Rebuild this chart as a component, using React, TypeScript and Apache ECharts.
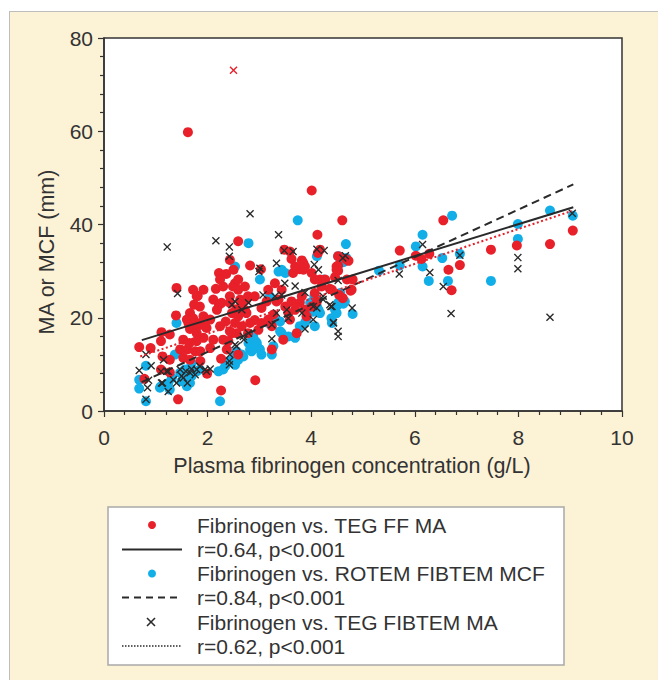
import React, { useEffect, useRef } from "react";
import * as echarts from "echarts";

const xTicks = [0, 2, 4, 6, 8, 10];
const yTicks = [0, 20, 40, 60, 80];

const tegFF: number[][] = [
  [4.60,40.9],[6.55,40.9],[5.71,34.4],[7.47,34.6],[7.97,35.5],[8.61,35.8],[9.05,38.7],[6.65,30.3],[6.87,31.3],[6.71,25.9],
  [6.02,33.3],[6.13,32.6],[6.28,33.7],[4.52,31.2],[4.52,30.1],[4.46,28.7],[4.69,28.2],[4.80,28.2],[4.76,25.8],[4.54,24.9],
  [4.61,24.2],[4.36,26.2],[4.67,32.6],[1.62,59.8],
  [1.40,26.4],[1.39,20.5],[0.68,13.7],[0.90,13.5],[1.10,15.0],[1.11,16.9],[1.27,16.4],[0.78,6.9],[1.10,8.9],[1.27,8.3],
  [1.43,2.5],[2.26,4.4],[2.26,11.2],[1.99,8.0],[2.59,36.4],[2.22,29.6],[2.36,29.4],[2.43,32.4],[2.50,30.3],[2.16,26.2],
  [1.92,26.0],[1.81,24.7],[2.11,23.9],[2.22,22.8],[1.74,22.8],[1.66,21.0],[1.92,20.3],[2.05,19.6],[1.63,18.9],[1.80,18.2],
  [1.98,17.8],[2.24,18.2],[2.35,19.2],[2.47,21.0],[1.53,15.3],[1.65,14.6],[1.79,15.0],[1.92,15.7],[2.11,15.3],[1.47,13.2],
  [1.61,13.2],[1.76,12.8],[1.86,12.8],[2.05,13.5],[1.53,11.4],[1.66,11.0],[1.86,10.7],[2.37,13.2],[2.40,15.0],[2.47,16.7],
  [2.53,18.9],[2.43,23.2],[2.49,26.7],[2.59,12.1],
  [4.01,47.3],[4.12,37.8],[3.48,34.6],[3.82,32.3],[3.78,30.4],[3.65,29.6],[2.82,31.2],[3.03,30.4],[3.62,32.6],[3.69,31.0],
  [4.72,32.2],[4.49,30.3],[4.78,26.0],
  [2.53,27.4],[2.59,26.0],[2.72,26.7],[2.78,24.6],[2.66,23.2],[2.56,21.8],[2.59,20.3],[2.75,21.0],[2.66,18.2],[2.82,18.9],
  [2.78,16.7],[2.91,19.5],[2.98,17.4],[3.04,22.1],[2.91,24.6],
  [3.14,23.5],[3.17,26.0],[3.30,27.4],[3.43,26.0],[3.37,23.9],[3.50,22.4],[3.62,23.5],[3.56,21.0],[3.69,21.7],[3.78,23.2],
  [3.82,24.6],[3.88,21.7],[3.91,20.3],[4.01,22.4],[4.11,23.5],[4.07,25.3],[4.20,26.7],[4.17,28.2],[4.40,26.0],[4.27,28.2],
  [3.27,20.7],[3.04,18.9],[3.24,18.2],[3.17,19.6],[3.85,30.3],[4.01,29.6],[4.07,28.2],[3.88,31.0],[3.24,13.2],[2.92,6.6],
  [3.59,34.2],[3.85,31.7],[4.13,33.9],[4.17,34.6],[4.49,31.0],[4.52,33.2],
  [1.60,19.6],[1.72,19.9],[1.85,18.9],[1.95,18.2],[1.66,17.6],[1.79,16.7],[1.79,24.6],[1.72,26.0],[1.85,22.4],
  [2.18,21.7],[2.27,23.2],[2.43,24.6],[2.30,26.7],[2.24,28.2],[2.59,28.2],[2.63,23.9],[2.75,23.9],[2.72,21.7],[2.56,16.7],
  [2.43,17.1],[2.30,15.3],[1.13,11.7],[1.27,11.0],[3.33,23.5],[3.59,19.6],[3.46,15.3],[3.72,16.7],
];

const rotemFibtem: number[][] = [
  [6.72,41.9],[8.61,43.0],[9.05,41.9],[7.99,40.1],[7.99,36.9],[6.15,37.8],[6.02,35.3],[6.15,31.0],[6.27,27.9],[6.53,32.8],
  [6.64,27.9],[5.71,31.2],[5.31,30.1],[7.47,27.9],[6.87,33.7],[4.67,35.8],[4.54,33.1],[4.62,31.9],[4.62,23.0],[4.50,22.6],
  [4.48,21.0],[4.39,19.9],[4.80,20.8],
  [1.40,18.9],[1.37,12.1],[0.81,9.7],[0.68,6.7],[0.81,2.1],[1.10,5.3],[1.24,6.0],[1.31,7.1],[1.47,8.2],[1.56,8.9],
  [1.60,5.3],[1.66,6.0],[1.50,6.4],[1.69,7.5],[1.79,8.5],[1.85,8.9],[2.24,2.1],[2.21,8.5],[2.34,9.6],[2.43,10.7],
  [2.53,12.1],[2.56,12.8],[2.53,31.0],
  [3.74,40.9],[2.79,36.0],[4.52,33.2],[4.68,32.8],[4.11,33.2],[3.37,29.9],[3.50,29.6],[3.01,28.2],[4.06,24.6],[4.14,21.7],
  [4.17,21.0],[4.07,18.2],[3.88,18.9],[4.46,21.7],[4.52,23.2],[4.65,23.5],[4.40,18.9],[3.43,16.7],[3.56,16.0],[3.69,15.7],
  [3.17,18.9],[3.30,19.6],[2.79,14.6],[2.92,15.0],[2.98,13.5],[2.85,12.8],[3.04,12.1],[3.24,12.1],[2.66,12.1],[2.59,11.0],
  [2.53,9.9],[3.20,24.6],
  [0.68,4.8],[2.30,8.9],[2.56,10.7],[2.69,11.7],[2.82,13.2],[2.95,14.6],[1.27,4.6],[1.08,5.0],[1.63,7.5],[1.53,8.5],
  [1.66,9.2],[1.69,10.3],[2.88,16.0],[3.01,13.2],[3.27,13.9],[3.40,17.1],[3.40,19.2],[3.43,30.3],
  [3.98,23.2],[4.11,22.4],[4.04,21.3],[3.91,19.6],[3.78,18.2],[4.56,25.3],[4.49,21.0],[4.24,28.2],
];

const tegFibtem: number[][] = [
  [9.04,42.4],[6.15,35.7],[6.87,33.4],[7.99,32.9],[7.99,30.5],[5.70,29.4],[6.29,29.7],[6.55,26.7],[6.70,20.9],[8.61,20.1],
  [4.61,32.8],[4.52,28.0],[4.38,22.4],[4.79,22.1],[4.43,19.0],[4.52,17.1],[4.52,16.0],
  [1.22,35.2],[2.16,36.5],[2.42,35.2],[2.42,33.2],[1.42,25.2],[0.81,12.1],[0.68,8.7],[0.91,9.7],[1.15,11.0],[0.86,6.6],
  [0.84,5.0],[0.81,2.5],[1.10,8.5],[1.21,8.5],[1.13,6.0],[1.24,4.2],[1.34,6.7],[1.47,8.9],[1.53,7.1],[1.61,6.0],
  [1.58,8.5],[1.69,9.0],[1.85,9.6],[1.76,7.8],[1.98,8.5],[2.05,9.0],[2.42,10.7],[2.43,12.1],[2.56,13.9],[2.47,22.8],
  [2.82,42.3],[3.37,37.8],[3.48,34.4],[3.65,34.2],[4.11,34.7],[4.25,34.4],[4.66,33.3],[3.33,31.7],[3.01,30.6],[2.99,29.9],
  [4.06,31.4],[4.14,30.3],[3.49,27.4],[3.69,26.8],[3.88,25.4],[3.43,24.9],[3.30,24.6],[3.07,24.9],[2.79,23.2],[2.66,21.7],
  [2.53,23.5],[4.23,24.6],[4.04,22.4],[4.40,22.4],[3.53,21.7],[3.33,21.0],[3.82,21.0],[4.04,19.6],[3.24,18.5],[3.88,17.6],
  [4.43,18.9],[3.24,15.5],[2.79,16.7],[2.70,15.3],[2.53,14.2],
  [3.56,19.9],[4.11,22.1],[4.23,23.9],[4.36,22.8],[2.69,16.0],[2.42,9.9],[1.24,8.5],[1.11,6.0],[1.40,6.0],[1.50,7.5],
  [1.66,8.2],[1.79,8.9],[1.95,8.9],
];

const tegFibtemOutlier: number[][] = [[2.50, 73.1]];

const fitFF: number[][] = [[0.73, 15.2], [9.06, 43.7]];
const fitROTEM: number[][] = [[0.73, 6.2], [9.06, 48.6]];
const fitFIBTEM: number[][] = [[0.70, 11.7], [9.03, 42.9]];

const legendLabels = [
  "Fibrinogen vs. TEG FF MA",
  "r=0.64, p<0.001",
  "Fibrinogen vs. ROTEM FIBTEM MCF",
  "r=0.84, p<0.001",
  "Fibrinogen vs. TEG FIBTEM MA",
  "r=0.62, p<0.001",
];

const RED = "#E8202A";
const BLUE = "#12AEE8";
const DARK = "#2a2a2a";
const FONT = "'Liberation Sans', Arial, Helvetica, sans-serif";
const CROSS =
  "path://M0,1.2L1.2,0L5,3.8L8.8,0L10,1.2L6.2,5L10,8.8L8.8,10L5,6.2L1.2,10L0,8.8L3.8,5Z";

export default function App() {
  const ref = useRef<HTMLDivElement>(null);

  useEffect(() => {
    document.body.style.margin = "0";
    const chart = echarts.init(ref.current!, null, { renderer: "svg" });

    const lx = 108, ly = 507, lw = 456, lh = 158;
    const rowY = [525, 549.5, 573.5, 597.5, 622, 646];
    const legendEls: any[] = [
      { type: "rect", shape: { x: lx, y: ly, width: lw, height: lh }, style: { fill: "#fff", stroke: "#a9a9a9", lineWidth: 1.5 } },
      { type: "circle", shape: { cx: 152, cy: rowY[0], r: 4 }, style: { fill: RED } },
      { type: "line", shape: { x1: 122, y1: rowY[1], x2: 182, y2: rowY[1] }, style: { stroke: DARK, lineWidth: 2 } },
      { type: "circle", shape: { cx: 152, cy: rowY[2], r: 4 }, style: { fill: BLUE } },
      { type: "line", shape: { x1: 122, y1: rowY[3], x2: 182, y2: rowY[3] }, style: { stroke: DARK, lineWidth: 2, lineDash: [7, 5] } },
      { type: "line", shape: { x1: 147, y1: rowY[4] - 4, x2: 155, y2: rowY[4] + 4 }, style: { stroke: DARK, lineWidth: 1.6 } },
      { type: "line", shape: { x1: 155, y1: rowY[4] - 4, x2: 147, y2: rowY[4] + 4 }, style: { stroke: DARK, lineWidth: 1.6 } },
      { type: "line", shape: { x1: 122, y1: rowY[5], x2: 182, y2: rowY[5] }, style: { stroke: DARK, lineWidth: 1.5, lineDash: [1.5, 1.5] } },
    ];
    legendLabels.forEach((t, i) => {
      legendEls.push({
        type: "text",
        x: 197,
        y: rowY[i],
        style: { text: t, fill: "#333", font: `21px ${FONT}`, textVerticalAlign: "middle", textAlign: "left" },
      });
    });

    chart.setOption({
      animation: false,
      backgroundColor: "transparent",
      grid: {
        left: 104, top: 38, width: 518, height: 373,
        show: true, backgroundColor: "#fff", borderColor: "#333", borderWidth: 1.5,
      },
      xAxis: {
        type: "value", min: 0, max: 10, interval: 2,
        axisLine: { show: true, lineStyle: { color: "#333", width: 1.5 } },
        axisTick: { show: true, length: 6, lineStyle: { color: "#333", width: 1.2 } },
        minorTick: { show: true, splitNumber: 5, length: 4, lineStyle: { color: "#333", width: 1.2 } },
        splitLine: { show: false },
        axisLabel: { fontSize: 21, fontFamily: FONT, color: "#333", margin: 16, formatter: (v: number) => (xTicks.includes(v) ? String(v) : "") },
      },
      yAxis: {
        type: "value", min: 0, max: 80, interval: 20,
        axisLine: { show: true, lineStyle: { color: "#333", width: 1.5 } },
        axisTick: { show: true, length: 6, lineStyle: { color: "#333", width: 1.2 } },
        minorTick: { show: true, splitNumber: 5, length: 4, lineStyle: { color: "#333", width: 1.2 } },
        splitLine: { show: false },
        axisLabel: { fontSize: 21, fontFamily: FONT, color: "#333", margin: 11, formatter: (v: number) => (yTicks.includes(v) ? String(v) : "") },
      },
      graphic: [
        {
          type: "text", x: 352, y: 466,
          style: { text: "Plasma fibrinogen concentration (g/L)", fill: "#333", font: `21.5px ${FONT}`, textAlign: "center", textVerticalAlign: "middle" },
        },
        {
          type: "text", x: 47, y: 252, rotation: Math.PI / 2,
          style: { text: "MA or MCF (mm)", fill: "#333", font: `21.5px ${FONT}`, textAlign: "center", textVerticalAlign: "middle" },
        },
        { type: "group", children: legendEls },
      ],
      series: [
        { type: "scatter", data: rotemFibtem, symbol: "circle", symbolSize: 10, itemStyle: { color: BLUE, opacity: 1 } },
        { type: "scatter", data: tegFF, symbol: "circle", symbolSize: 10, itemStyle: { color: RED, opacity: 1 } },
        { type: "scatter", data: tegFibtem, symbol: CROSS, symbolSize: 8, itemStyle: { color: DARK, opacity: 1 } },
        { type: "scatter", data: tegFibtemOutlier, symbol: CROSS, symbolSize: 8, itemStyle: { color: RED, opacity: 1 } },
        { type: "line", data: fitFF, symbol: "none", lineStyle: { color: DARK, width: 2 }, z: 5 },
        { type: "line", data: fitROTEM, symbol: "none", lineStyle: { color: DARK, width: 2, type: [8, 5] }, z: 5 },
        { type: "line", data: fitFIBTEM, symbol: "none", lineStyle: { color: RED, width: 2, type: [2, 2.5] }, z: 5 },
      ],
    });

    return () => chart.dispose();
  }, []);

  return (
    <div style={{ position: "relative", width: 658, height: 680, background: "#fff", overflow: "hidden" }}>
      <div
        style={{
          position: "absolute", left: 9, top: 11, right: 0, bottom: 0,
          background: "#FCF2D6", borderTop: "1.5px solid #bdbdbd", borderLeft: "1.5px solid #bdbdbd",
        }}
      />
      <div ref={ref} style={{ position: "absolute", left: 0, top: 0, width: 658, height: 680 }} />
    </div>
  );
}
